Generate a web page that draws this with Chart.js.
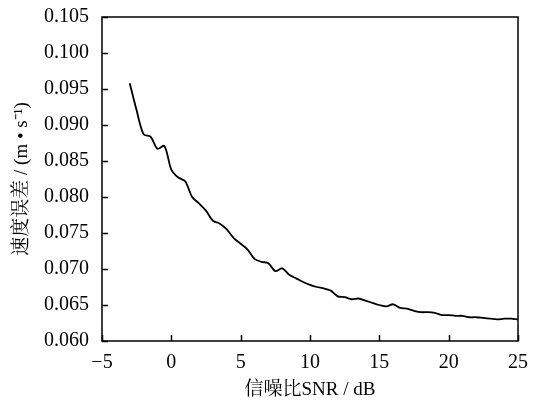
<!DOCTYPE html>
<html>
<head>
<meta charset="utf-8">
<script src="https://cdn.jsdelivr.net/npm/chart.js@4.4.1/dist/chart.umd.min.js"></script>
<style>
  html, body { margin: 0; padding: 0; background: #fff; }
  #wrap { width: 545px; height: 401px; }
</style>
</head>
<body>
<div id="wrap"><canvas id="snrChart" width="545" height="401"></canvas></div>
<script>
// 信噪比 (dB)
const snr = [-3, -2.5, -2, -1.5, -1, -0.5, 0, 0.5, 1, 1.5, 2, 2.5, 3, 3.5, 4, 4.5, 5, 5.5, 6, 6.5,
  7, 7.5, 8, 8.5, 9, 9.5, 10, 10.5, 11, 11.5, 12, 12.5, 13, 13.5, 14, 14.5, 15, 15.5, 16, 16.5,
  17, 17.5, 18, 18.5, 19, 19.5, 20, 20.5, 21, 21.5, 22, 22.5, 23, 23.5, 24, 24.5, 25];
// 速度误差 (m/s)
const speedError = [0.0958, 0.0920, 0.0887, 0.0884, 0.0867, 0.0871, 0.0838, 0.0827, 0.0822, 0.0800,
  0.0791, 0.0781, 0.0767, 0.0763, 0.0755, 0.0743, 0.0735, 0.0727, 0.0714, 0.0710,
  0.0708, 0.0697, 0.0701, 0.0692, 0.0687, 0.0682, 0.0678, 0.0675, 0.0673, 0.0670,
  0.0662, 0.0661, 0.0658, 0.0659, 0.0656, 0.0653, 0.0650, 0.0648, 0.0651, 0.0646,
  0.0645, 0.0642, 0.0640, 0.0640, 0.0639, 0.0636, 0.0636, 0.0635, 0.0635, 0.0633,
  0.0633, 0.0632, 0.0631, 0.0630, 0.0631, 0.0631, 0.0630];
const xTicks = [-5, 0, 5, 10, 15, 20, 25];
const yTicks = [0.060, 0.065, 0.070, 0.075, 0.080, 0.085, 0.090, 0.095, 0.100, 0.105];

const serif = "'Liberation Serif', 'Times New Roman', 'Noto Serif CJK SC', 'Noto Sans CJK SC', serif";

// 刻度线朝内 + 外框
const frame = {
  id: 'frame',
  afterDraw(chart) {
    const c = chart.ctx, a = chart.chartArea;
    const xs = chart.scales.x, ys = chart.scales.y;
    c.save();
    c.strokeStyle = '#000';
    c.lineWidth = 1.5;
    c.strokeRect(a.left, a.top, a.right - a.left, a.bottom - a.top);
    c.beginPath();
    xTicks.forEach(v => {
      const px = Math.round(xs.getPixelForValue(v)) + 0.5;
      c.moveTo(px, a.bottom); c.lineTo(px, a.bottom - 6);
    });
    yTicks.forEach(v => {
      const py = Math.round(ys.getPixelForValue(v)) + 0.5;
      c.moveTo(a.left, py); c.lineTo(a.left + 6, py);
    });
    c.stroke();
    c.restore();
  }
};

const ctx = document.getElementById('snrChart').getContext('2d');
new Chart(ctx, {
  type: 'line',
  data: {
    datasets: [{
      data: snr.map((x, i) => ({ x: x, y: speedError[i] })),
      borderColor: '#000',
      borderWidth: 1.8,
      pointRadius: 0,
      tension: 0.3,
      fill: false
    }]
  },
  options: {
    responsive: false,
    animation: false,
    layout: { padding: { top: 7, right: 27, left: 0, bottom: 0 } },
    plugins: { legend: { display: false }, tooltip: { enabled: false } },
    scales: {
      x: {
        type: 'linear',
        min: -5, max: 25,
        afterBuildTicks(s) { s.ticks = xTicks.map(v => ({ value: v })); },
        afterFit(s) { s.height = 60; },
        grid: { display: false },
        border: { display: false },
        ticks: {
          color: '#000',
          font: { family: serif, size: 20 },
          padding: 2,
          maxRotation: 0,
          callback: v => String(v).replace('-', '\u2212')
        },
        title: {
          display: true,
          text: '信噪比SNR / dB',
          color: '#000',
          font: { family: serif, size: 19 },
          padding: { top: 4, bottom: 0 }
        }
      },
      y: {
        min: 0.060, max: 0.105,
        afterBuildTicks(s) { s.ticks = yTicks.map(v => ({ value: v })); },
        afterFit(s) { s.width = 102; },
        grid: { display: false },
        border: { display: false },
        ticks: {
          color: '#000',
          font: { family: serif, size: 20 },
          padding: 5,
          callback: v => v.toFixed(3)
        },
        title: {
          display: true,
          text: '速度误差 / (m • s⁻¹)',
          color: '#000',
          font: { family: serif, size: 19 },
          padding: { top: 11, bottom: 0 }
        }
      }
    }
  },
  plugins: [frame]
});
</script>
</body>
</html>
